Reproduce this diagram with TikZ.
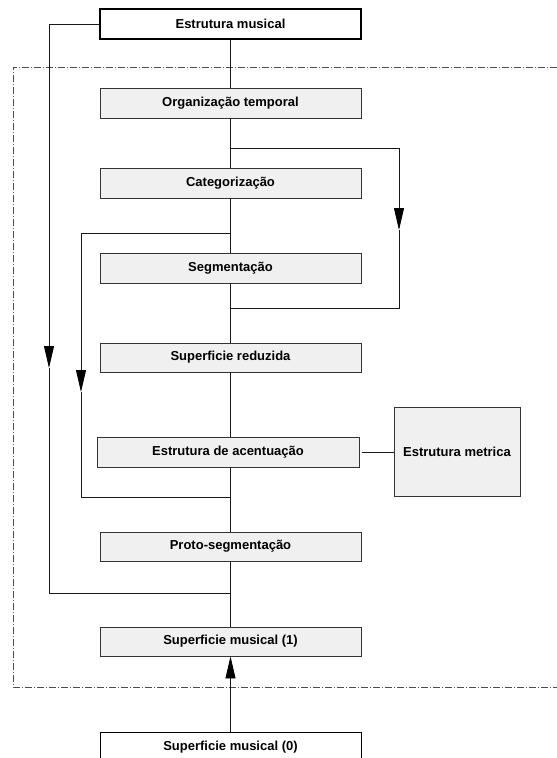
\documentclass[tikz,border=0pt]{standalone}
\usepackage{fontspec}
\setmainfont{Liberation Sans}
\usetikzlibrary{arrows.meta}
\begin{document}
\begin{tikzpicture}[x=1pt,y=-1pt,
  box/.style={draw=black!80, line width=0.9pt, fill=black!6, minimum width=261pt, minimum height=30pt, inner sep=0pt, font=\fontsize{13}{15}\selectfont\bfseries},
  wbox/.style={box, fill=white, draw=black, line width=1.3pt},
  ln/.style={line width=0.8pt, draw=black!90},
  arr/.style={ln, -{Triangle[length=22pt,width=10pt,color=black]}},
  frame/.style={line width=0.7pt, draw=black!70, dash pattern=on 7pt off 2pt on 1pt off 2pt}
]
\useasboundingbox (0,0) rectangle (557,758);
\begin{scope}
\clip (0,0) rectangle (557,758);
% frame
\coordinate (f1) at (557,67);
\coordinate (f2) at (13,67);
\coordinate (f3) at (13,687);
\coordinate (f4) at (557,687);
\draw[frame] (f1) -- (f2) -- (f3) -- (f4);

% boxes
\node[wbox] (em) at (230.5,24) {Estrutura musical};
\node[box] (org) at (230.5,103) {Organização temporal};
\node[box] (cat) at (230.5,183) {Categorização};
\node[box] (seg) at (230.5,268) {Segmentação};
\node[box, minimum height=29pt] (sred) at (230.5,357.5) {Superficie reduzida};
\node[box, minimum width=262pt] (acc) at (228,452) {Estrutura de acentuação};
\node[box, minimum width=126pt, minimum height=89pt] (met) at (457,452) {Estrutura metrica};
\node[box, minimum height=29pt] (proto) at (230.5,546.5) {Proto-segmentação};
\node[box, minimum height=29pt] (sm1) at (230.5,641.5) {Superficie musical (1)};
\node[wbox, line width=1pt] (sm0) at (230.5,747) {Superficie musical (0)};

% central spine
\draw[ln] (em.south) -- (org.north);
\draw[ln] (org.south) -- (cat.north);
\draw[ln] (cat.south) -- (seg.north);
\draw[ln] (seg.south) -- (sred.north);
\draw[ln] (sred.south) -- (sred.south |- acc.north);
\draw[ln] (sred.south |- acc.south) -- (proto.north);
\draw[ln] (proto.south) -- (sm1.north);
\draw[arr] (sm0.north) -- (sm1.south);

% acc to metrica
\coordinate (am) at (362,452);
\draw[ln] (am) -- (met.west);

% right loop
\coordinate (r0) at (230.5,148);
\coordinate (r1) at (399,148);
\coordinate (r2) at (399,230);
\coordinate (r3) at (399,308);
\coordinate (r4) at (230.5,308);
\draw[arr] (r0) -- (r1) -- (r2);
\draw[ln] (r2) -- (r3) -- (r4);

% middle-left loop
\coordinate (m0) at (230.5,233);
\coordinate (m1) at (81,233);
\coordinate (m2) at (81,392);
\coordinate (m3) at (81,497);
\coordinate (m4) at (230.5,497);
\draw[arr] (m0) -- (m1) -- (m2);
\draw[ln] (m2) -- (m3) -- (m4);

% outer-left loop
\coordinate (l1) at (49,24);
\coordinate (l2) at (49,368);
\coordinate (l3) at (49,593);
\coordinate (l4) at (230.5,593);
\draw[arr] (em.west) -- (l1) -- (l2);
\draw[ln] (l2) -- (l3) -- (l4);
\end{scope}
\end{tikzpicture}
\end{document}
